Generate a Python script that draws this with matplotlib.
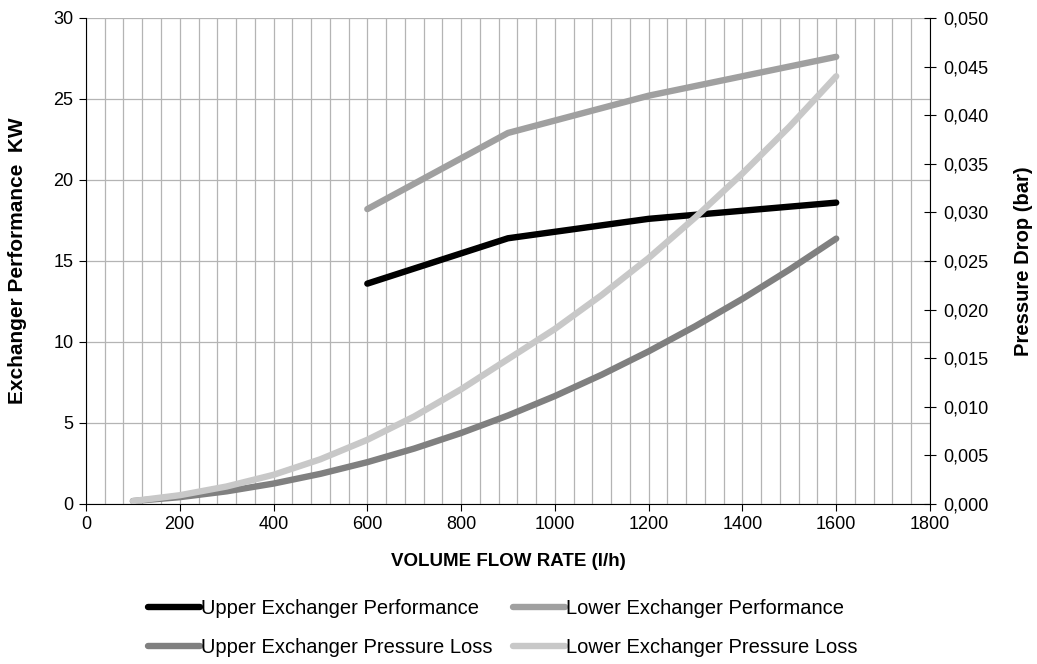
import matplotlib
matplotlib.use("Agg")
import matplotlib.pyplot as plt
from matplotlib.ticker import MultipleLocator, FuncFormatter

plt.rcParams['font.family'] = ['Liberation Sans', 'DejaVu Sans']

# --- data ---
perf_flow = [600, 900, 1200, 1600]
upper_perf = [13.6, 16.4, 17.6, 18.6]
lower_perf = [18.2, 22.9, 25.2, 27.6]

loss_flow = [100, 200, 300, 400, 500, 600, 700, 800, 900, 1000,
             1100, 1200, 1300, 1400, 1500, 1600]
upper_loss = [0.0003, 0.0007, 0.0013, 0.0021, 0.0031, 0.0043, 0.0057, 0.0073,
              0.0091, 0.0111, 0.0133, 0.0157, 0.0183, 0.0211, 0.0241, 0.0273]
lower_loss = [0.0003, 0.0009, 0.0018, 0.0030, 0.0046, 0.0066, 0.0090, 0.0118,
              0.0149, 0.0180, 0.0215, 0.0253, 0.0295, 0.0340, 0.0388, 0.0440]

fig = plt.figure(figsize=(10.37, 6.64), dpi=100)
ax = fig.add_axes([0.0829, 0.241, 0.8139, 0.732])
ax2 = ax.twinx()

lw = 4.6
grid_c = '#b4b4b4'

l1, = ax.plot(perf_flow, upper_perf, color='black', lw=lw,
              solid_capstyle='round', label='Upper Exchanger Performance', zorder=3)
l2, = ax.plot(perf_flow, lower_perf, color='#a0a0a0', lw=lw,
              solid_capstyle='round', label='Lower Exchanger Performance', zorder=3)
l3, = ax2.plot(loss_flow, upper_loss, color='#808080', lw=lw,
               solid_capstyle='round', solid_joinstyle='round',
               label='Upper Exchanger Pressure Loss')
l4, = ax2.plot(loss_flow, lower_loss, color='#c8c8c8', lw=lw,
               solid_capstyle='round', solid_joinstyle='round',
               label='Lower Exchanger Pressure Loss')

ax.set_xlim(0, 1800)
ax.set_ylim(0, 30)
ax2.set_ylim(0, 0.05)
ax.xaxis.set_major_locator(MultipleLocator(200))
ax.xaxis.set_minor_locator(MultipleLocator(40))
ax.yaxis.set_major_locator(MultipleLocator(5))
ax2.yaxis.set_major_locator(MultipleLocator(0.005))
ax2.yaxis.set_major_formatter(FuncFormatter(lambda v, p: f"{v:.3f}".replace('.', ',')))

ax.grid(which='major', axis='y', color=grid_c, lw=0.9)
ax.grid(which='both', axis='x', color=grid_c, lw=0.9)
ax.set_axisbelow(True)

for a in (ax, ax2):
    a.spines['top'].set_visible(False)
ax.spines['right'].set_visible(False)
ax2.spines['left'].set_visible(False)
ax2.spines['bottom'].set_visible(False)

ax.tick_params(axis='both', which='major', labelsize=13, length=5, direction='out', pad=4)
ax.tick_params(axis='x', which='minor', length=0)
ax2.tick_params(axis='y', labelsize=13, length=9, direction='inout', pad=5)

ax.set_xlabel('VOLUME FLOW RATE (l/h)', fontsize=13.5, fontweight='bold')
ax.set_ylabel('Exchanger Performance  KW', fontsize=15, fontweight='bold')
ax2.set_ylabel('Pressure Drop (bar)', fontsize=14.5, fontweight='bold')
ax.xaxis.set_label_coords(0.5, -0.101)
ax.yaxis.set_label_coords(-0.0699, 0.5)
ax2.yaxis.set_label_coords(1.0995, 0.5)

fig.legend(handles=[l1, l3, l2, l4], loc='center', bbox_to_anchor=(0.4846, 0.0542),
           ncol=2, frameon=False, fontsize=14.5, handlelength=2.58,
           handletextpad=0.05, columnspacing=1.04, labelspacing=0.96,
           borderpad=0, borderaxespad=0)

fig.savefig('out.png', dpi=100)
